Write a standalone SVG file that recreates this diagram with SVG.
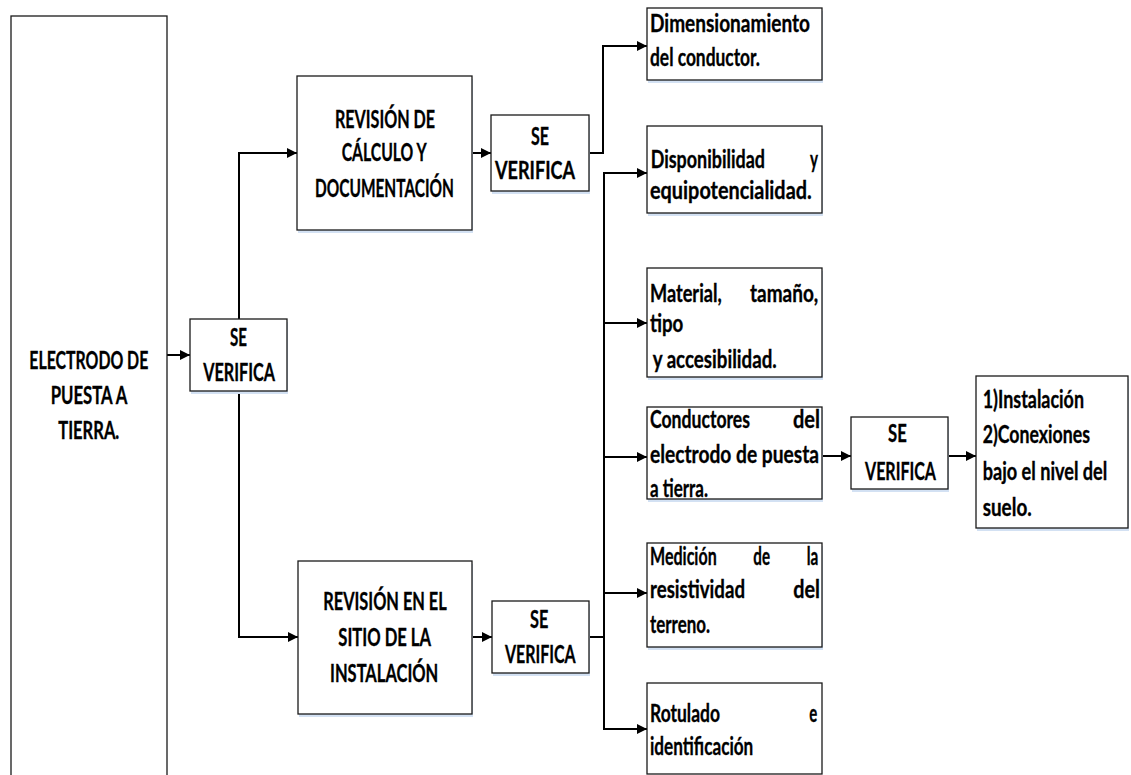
<svg xmlns="http://www.w3.org/2000/svg" width="1131" height="775" viewBox="0 0 1131 775">
  <defs>
    <marker id="arrow" markerUnits="userSpaceOnUse" markerWidth="12" markerHeight="12" viewBox="0 0 12 12" refX="11" refY="6" orient="auto">
      <path d="M1,1 L11,6 L1,11 Z" fill="#000"/>
    </marker>
    <style>
      .box { fill: #fff; stroke: #1a1a1a; stroke-width: 1.3; }
      .shadow { fill: #d3e1f3; }
      .t { font-family: Lato, "Open Sans", "Liberation Sans", sans-serif; font-weight: bold; font-size: 25.5px; fill: #000; stroke: #000; stroke-width: 0.35; }
      .conn { fill: none; stroke: #000; stroke-width: 2; }
      .arr { marker-end: url(#arrow); }
    </style>
  </defs>
  <rect width="1131" height="775" fill="#fff"/>

  <!-- connectors -->
  <g id="connectors">
    <path class="conn arr" d="M167,355 H190"/>
    <path class="conn arr" d="M239,319 V153 H297"/>
    <path class="conn arr" d="M239,391 V637 H298"/>
    <path class="conn arr" d="M472,153 H491"/>
    <path class="conn arr" d="M589,153 H603 V46 H647"/>
    <path class="conn arr" d="M472,637 H492"/>
    <path class="conn" d="M589,637 H604"/>
    <path class="conn" d="M604,172 V730"/>
    <path class="conn arr" d="M603,173 H647"/>
    <path class="conn arr" d="M603,323 H647"/>
    <path class="conn arr" d="M603,457 H647"/>
    <path class="conn arr" d="M603,593 H647"/>
    <path class="conn arr" d="M603,729 H647"/>
    <path class="conn arr" d="M822,456 H851"/>
    <path class="conn arr" d="M948,456 H976"/>
  </g>

  <g id="electrodo">
    <rect class="box" x="11" y="16" width="156" height="770"/>
    <text class="t" x="29.3" y="369" textLength="119" lengthAdjust="spacingAndGlyphs">ELECTRODO DE</text>
    <text class="t" x="50.7" y="404" textLength="76.6" lengthAdjust="spacingAndGlyphs">PUESTA A</text>
    <text class="t" x="58.3" y="439" textLength="61" lengthAdjust="spacingAndGlyphs">TIERRA.</text>
  </g>

  <g id="verifica-1">
    <rect class="shadow" x="191" y="322" width="97" height="72"/>
    <rect class="box" x="190" y="319" width="97" height="72"/>
    <text class="t" x="230" y="346" textLength="17" lengthAdjust="spacingAndGlyphs">SE</text>
    <text class="t" x="203.3" y="381" textLength="71.7" lengthAdjust="spacingAndGlyphs">VERIFICA</text>
  </g>

  <g id="revision-calculo">
    <rect class="shadow" x="298" y="79" width="175" height="154"/>
    <rect class="box" x="297" y="76" width="175" height="154"/>
    <text class="t" x="335" y="128" textLength="100" lengthAdjust="spacingAndGlyphs">REVISIÓN DE</text>
    <text class="t" x="341.7" y="161" textLength="85" lengthAdjust="spacingAndGlyphs">CÁLCULO Y</text>
    <text class="t" x="315" y="197" textLength="139" lengthAdjust="spacingAndGlyphs">DOCUMENTACIÓN</text>
  </g>

  <g id="verifica-2">
    <rect class="shadow" x="492" y="118" width="98" height="76"/>
    <rect class="box" x="491" y="115" width="98" height="76"/>
    <text class="t" x="531" y="145" textLength="18" lengthAdjust="spacingAndGlyphs">SE</text>
    <text class="t" x="495" y="179" textLength="80" lengthAdjust="spacingAndGlyphs">VERIFICA</text>
  </g>

  <g id="revision-sitio">
    <rect class="shadow" x="299" y="564" width="174" height="153"/>
    <rect class="box" x="298" y="561" width="174" height="153"/>
    <text class="t" x="323.3" y="610" textLength="123.4" lengthAdjust="spacingAndGlyphs">REVISIÓN EN EL</text>
    <text class="t" x="338.3" y="646" textLength="92.7" lengthAdjust="spacingAndGlyphs">SITIO DE LA</text>
    <text class="t" x="330" y="682" textLength="108.3" lengthAdjust="spacingAndGlyphs">INSTALACIÓN</text>
  </g>

  <g id="verifica-4">
    <rect class="shadow" x="493" y="604" width="97" height="72"/>
    <rect class="box" x="492" y="601" width="97" height="72"/>
    <text class="t" x="530" y="628" textLength="18.3" lengthAdjust="spacingAndGlyphs">SE</text>
    <text class="t" x="505" y="663" textLength="70.7" lengthAdjust="spacingAndGlyphs">VERIFICA</text>
  </g>

  <g id="dimensionamiento">
    <rect class="shadow" x="648" y="11" width="175" height="72"/>
    <rect class="box" x="647" y="8" width="175" height="72"/>
    <text class="t" x="650" y="32" textLength="160" lengthAdjust="spacingAndGlyphs">Dimensionamiento</text>
    <text class="t" x="650" y="66" textLength="110" lengthAdjust="spacingAndGlyphs">del conductor.</text>
  </g>

  <g id="disponibilidad">
    <rect class="shadow" x="648" y="129" width="175" height="87"/>
    <rect class="box" x="647" y="126" width="175" height="87"/>
    <text class="t" x="650.7" y="168" textLength="114.3" lengthAdjust="spacingAndGlyphs">Disponibilidad</text>
    <text class="t" x="810" y="168" textLength="8" lengthAdjust="spacingAndGlyphs">y</text>
    <text class="t" x="650" y="199" textLength="161.7" lengthAdjust="spacingAndGlyphs">equipotencialidad.</text>
  </g>

  <g id="material">
    <rect class="shadow" x="648" y="271" width="175" height="109"/>
    <rect class="box" x="647" y="268" width="175" height="109"/>
    <text class="t" x="650" y="302" textLength="71.7" lengthAdjust="spacingAndGlyphs">Material,</text>
    <text class="t" x="750" y="302" textLength="68.3" lengthAdjust="spacingAndGlyphs">tamaño,</text>
    <text class="t" x="650" y="332" textLength="33.3" lengthAdjust="spacingAndGlyphs">tipo</text>
    <text class="t" x="652.7" y="368" textLength="124" lengthAdjust="spacingAndGlyphs">y accesibilidad.</text>
  </g>

  <g id="conductores">
    <rect class="shadow" x="648" y="410" width="175" height="92"/>
    <rect class="box" x="647" y="407" width="175" height="92"/>
    <text class="t" x="650" y="428" textLength="100" lengthAdjust="spacingAndGlyphs">Conductores</text>
    <text class="t" x="793" y="428" textLength="27" lengthAdjust="spacingAndGlyphs">del</text>
    <text class="t" x="650" y="463" textLength="169" lengthAdjust="spacingAndGlyphs">electrodo de puesta</text>
    <text class="t" x="650" y="497" textLength="58" lengthAdjust="spacingAndGlyphs">a tierra.</text>
  </g>

  <g id="verifica-3">
    <rect class="shadow" x="852" y="420" width="97" height="72"/>
    <rect class="box" x="851" y="417" width="97" height="72"/>
    <text class="t" x="888" y="442" textLength="18.7" lengthAdjust="spacingAndGlyphs">SE</text>
    <text class="t" x="865" y="480" textLength="71" lengthAdjust="spacingAndGlyphs">VERIFICA</text>
  </g>

  <g id="instalacion-conexiones">
    <rect class="shadow" x="977" y="379" width="152" height="152"/>
    <rect class="box" x="976" y="376" width="152" height="152"/>
    <text class="t" x="982.7" y="408" textLength="101.3" lengthAdjust="spacingAndGlyphs">1)Instalación</text>
    <text class="t" x="982.7" y="443" textLength="107.3" lengthAdjust="spacingAndGlyphs">2)Conexiones</text>
    <text class="t" x="982.7" y="480" textLength="124.6" lengthAdjust="spacingAndGlyphs">bajo el nivel del</text>
    <text class="t" x="982.7" y="516" textLength="49" lengthAdjust="spacingAndGlyphs">suelo.</text>
  </g>

  <g id="medicion">
    <rect class="shadow" x="648" y="546" width="175" height="104"/>
    <rect class="box" x="647" y="543" width="175" height="104"/>
    <text class="t" x="650" y="565" textLength="66.7" lengthAdjust="spacingAndGlyphs">Medición</text>
    <text class="t" x="753.3" y="565" textLength="16.7" lengthAdjust="spacingAndGlyphs">de</text>
    <text class="t" x="806.7" y="565" textLength="11.6" lengthAdjust="spacingAndGlyphs">la</text>
    <text class="t" x="650" y="598" textLength="95" lengthAdjust="spacingAndGlyphs">resistividad</text>
    <text class="t" x="793.3" y="598" textLength="26.7" lengthAdjust="spacingAndGlyphs">del</text>
    <text class="t" x="650" y="633" textLength="60" lengthAdjust="spacingAndGlyphs">terreno.</text>
  </g>

  <g id="rotulado">
    <rect class="box" x="647" y="683" width="175" height="91"/>
    <text class="t" x="650" y="722" textLength="70" lengthAdjust="spacingAndGlyphs">Rotulado</text>
    <text class="t" x="809.3" y="722" textLength="8" lengthAdjust="spacingAndGlyphs">e</text>
    <text class="t" x="650" y="755" textLength="103.3" lengthAdjust="spacingAndGlyphs">identificación</text>
  </g>
</svg>
